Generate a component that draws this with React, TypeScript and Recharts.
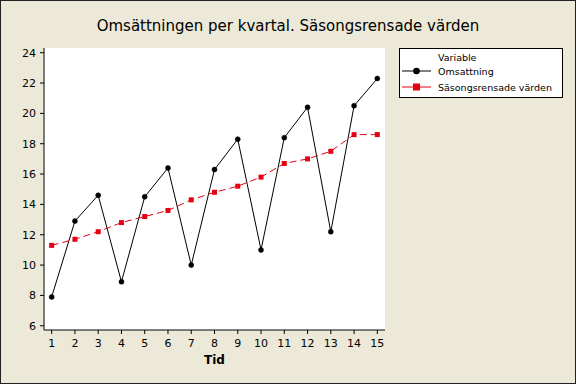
import React from "react";
import { ComposedChart, Line, XAxis, YAxis, CartesianGrid, Legend, Label } from "recharts";

const periods = [1, 2, 3, 4, 5, 6, 7, 8, 9, 10, 11, 12, 13, 14, 15];
const omsattning = [7.9, 12.9, 14.6, 8.9, 14.5, 16.4, 10.0, 16.3, 18.3, 11.0, 18.4, 20.4, 12.2, 20.5, 22.3];
const sasongsrensade = [11.3, 11.7, 12.2, 12.8, 13.2, 13.6, 14.3, 14.8, 15.2, 15.8, 16.7, 17.0, 17.5, 18.6, 18.6];
const xTicks = [1, 2, 3, 4, 5, 6, 7, 8, 9, 10, 11, 12, 13, 14, 15];
const yTicks = [6, 8, 10, 12, 14, 16, 18, 20, 22, 24];

const data = periods.map((t, i) => ({ t, oms: omsattning[i], sas: sasongsrensade[i] }));

const FONT = "'DejaVu Sans', Verdana, sans-serif";
const BG = "#ECE9D8";
const RED = "#e60012";

const SquareDot = (props: any) => {
  const { cx, cy, index } = props;
  if (cx == null || cy == null) return null;
  return <rect key={`sq-${index}`} x={cx - 2.5} y={cy - 2.5} width={5} height={5} fill={RED} />;
};

const renderLegend = (props: any) => {
  const items = props.payload || [];
  return (
    <svg width={164} height={50} style={{ display: "block", fontFamily: FONT }}>
      <rect x={0.5} y={0.5} width={163} height={49} fill="#ffffff" stroke="#000" />
      <text x={39} y={13} fontSize={9.5} fill="#000">Variable</text>
      {items.map((it: any, i: number) => {
        const cy = 23 + i * 16;
        return (
          <g key={`leg-${i}`}>
            <line x1={3} x2={32} y1={cy} y2={cy} stroke={it.color} strokeWidth={1} />
            {it.type === "square" ? (
              <rect x={14} y={cy - 3.5} width={7} height={7} fill={it.color} />
            ) : (
              <circle cx={17.5} cy={cy} r={3.3} fill={it.color} />
            )}
            <text x={39} y={cy + 3.5} fontSize={9.5} fill="#000">{it.value}</text>
          </g>
        );
      })}
    </svg>
  );
};

export default function App() {
  return (
    <div style={{ position: "absolute", left: 0, top: 0, width: 576, height: 384, background: BG, fontFamily: FONT }}>
      <div style={{ position: "absolute", left: 0, top: 17, width: 576, textAlign: "center", fontSize: 15, color: "#000" }}>
        Omsättningen per kvartal. Säsongsrensade värden
      </div>
      <ComposedChart
        width={576}
        height={384}
        data={data}
        margin={{ top: 48, right: 191, bottom: 0, left: 0 }}
        style={{ fontFamily: FONT }}
      >
        <CartesianGrid horizontal={false} vertical={false} fill="#ffffff" />
        <XAxis
          dataKey="t"
          type="number"
          domain={[0.67, 15.33]}
          ticks={xTicks}
          interval={0}
          height={54}
          tickSize={4}
          tickMargin={5}
          axisLine={{ stroke: "#000" }}
          tickLine={{ stroke: "#000" }}
          tick={{ fill: "#000", fontSize: 11 }}
        >
          <Label value="Tid" position="insideBottom" offset={20} style={{ fontWeight: "bold", fontSize: 12, fill: "#000" }} />
        </XAxis>
        <XAxis xAxisId="top" orientation="top" type="number" domain={[0.67, 15.33]} height={0} tick={false} tickLine={false} axisLine={{ stroke: "#000" }} />
        <YAxis
          type="number"
          domain={[5.72, 24.31]}
          ticks={yTicks}
          interval={0}
          width={44}
          tickSize={4}
          tickMargin={4}
          axisLine={{ stroke: "#000" }}
          tickLine={{ stroke: "#000" }}
          tick={{ fill: "#000", fontSize: 11 }}
        />
        <YAxis yAxisId="right" orientation="right" type="number" domain={[5.72, 24.31]} width={0} tick={false} tickLine={false} axisLine={{ stroke: "#000" }} />
        <Legend
          content={renderLegend}
          layout="vertical"
          align="center"
          verticalAlign="middle"
          wrapperStyle={{ left: 399, top: 48, right: "auto", bottom: "auto", width: 164, height: 50 }}
        />
        <Line
          dataKey="oms"
          name="Omsattning"
          legendType="circle"
          stroke="#000"
          strokeWidth={1}
          dot={{ r: 2.5, fill: "#000", stroke: "#000", strokeWidth: 0.5 }}
          activeDot={false}
          isAnimationActive={false}
        />
        <Line
          dataKey="sas"
          name="Säsongsrensade värden"
          legendType="square"
          stroke={RED}
          strokeWidth={1}
          strokeDasharray="7 4"
          dot={SquareDot}
          activeDot={false}
          isAnimationActive={false}
        />
      </ComposedChart>
      <div style={{ position: "absolute", left: 0, top: 0, width: 576, height: 384, boxSizing: "border-box", border: "1px solid #222", pointerEvents: "none" }} />
    </div>
  );
}
